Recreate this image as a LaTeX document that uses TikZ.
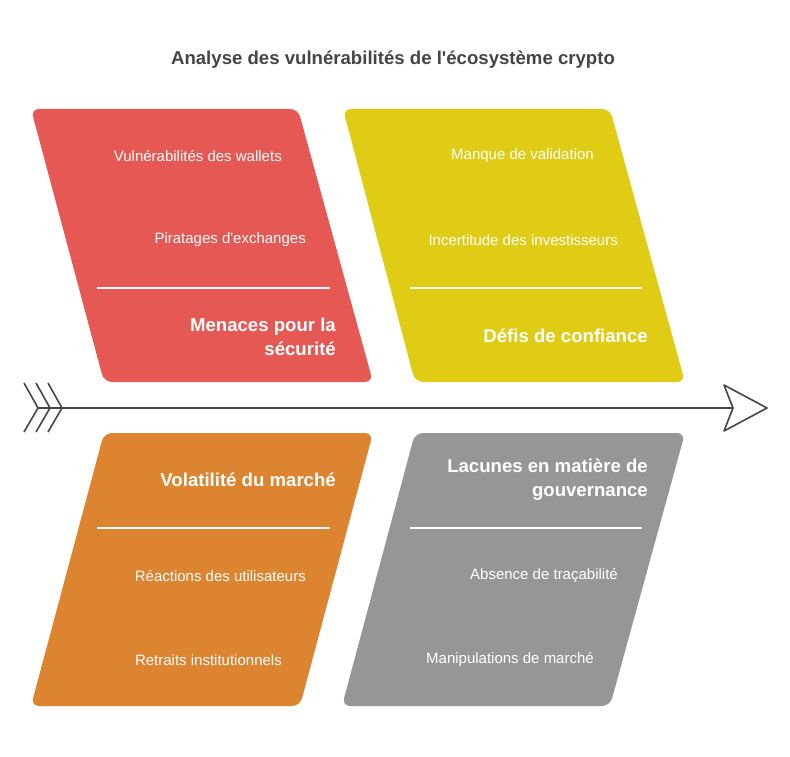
\documentclass[tikz,border=0pt]{standalone}
\usepackage{fontspec}
\setmainfont{Liberation Sans}[Ligatures=TeXOff]
\usetikzlibrary{}

\definecolor{secred}{HTML}{E55853}
\definecolor{trustyellow}{HTML}{E0CB15}
\definecolor{volorange}{HTML}{DD8430}
\definecolor{govgray}{HTML}{969696}
\definecolor{spinegray}{HTML}{454545}

\tikzset{
    panel/.style={rounded corners=8pt},
    item/.style={text=white, font=\fontsize{15}{18}\selectfont, anchor=east, inner sep=0pt},
    head/.style={text=white, font=\bfseries\fontsize{18.6}{24}\selectfont, anchor=east, align=right, inner sep=0pt},
    sep/.style={draw=white, line width=1.3pt},
    spine/.style={draw=spinegray, line width=1.6pt, line join=round}
}

\begin{document}
\begin{tikzpicture}[x=1pt, y=-1pt]
    \useasboundingbox (0, 0) rectangle (790, 757);

    \node[text=spinegray, font=\bfseries\fontsize{18.6}{22}\selectfont] (title) at (393, 60) {Analyse des vulnérabilités de l'écosystème crypto};

    % panels
    \fill[secred, panel] (31, 109) -- (298, 109) -- (373, 382) -- (104, 382) -- cycle;
    \fill[trustyellow, panel] (343, 109) -- (610, 109) -- (685, 382) -- (415, 382) -- cycle;
    \fill[volorange, panel] (104, 433) -- (373, 433) -- (300, 706) -- (31, 706) -- cycle;
    \fill[govgray, panel] (415, 433) -- (685, 433) -- (610, 706) -- (342, 706) -- cycle;

    % security
    \node[item] (wallets) at (282, 156) {Vulnérabilités des wallets};
    \node[item] (hacks) at (306, 240) {Piratages d'exchanges};
    \draw[sep] (97, 288) -- (330, 288);
    \node[head] (security) at (336, 337) {Menaces pour la\\sécurité};

    % trust
    \node[item] (validation) at (594, 156) {Manque de validation};
    \node[item] (investors) at (618, 240) {Incertitude des investisseurs};
    \draw[sep] (410, 288) -- (642, 288);
    \node[head] (trust) at (648, 336) {Défis de confiance};

    % volatility
    \node[head] (volatility) at (336, 480) {Volatilité du marché};
    \draw[sep] (97, 528) -- (330, 528);
    \node[item] (reactions) at (306, 576) {Réactions des utilisateurs};
    \node[item] (withdrawals) at (282, 660) {Retraits institutionnels};

    % governance
    \node[head] (governance) at (648, 480) {Lacunes en matière de\\gouvernance};
    \draw[sep] (410, 528) -- (642, 528);
    \node[item] (tracing) at (618, 576) {Absence de traçabilité};
    \node[item] (manipulation) at (594, 660) {Manipulations de marché};

    % spine
    \coordinate (tail) at (38, 408);
    \coordinate (notch) at (733, 408);
    \foreach \x in {24, 36, 48}
        \draw[spine] (\x, 383) -- (\x + 14, 408) -- (\x, 432);
    \draw[spine] (tail) -- (notch);
    \draw[spine, fill=white] (notch) -- (724, 385) -- (767, 408) -- (724, 431) -- cycle;
\end{tikzpicture}
\end{document}
